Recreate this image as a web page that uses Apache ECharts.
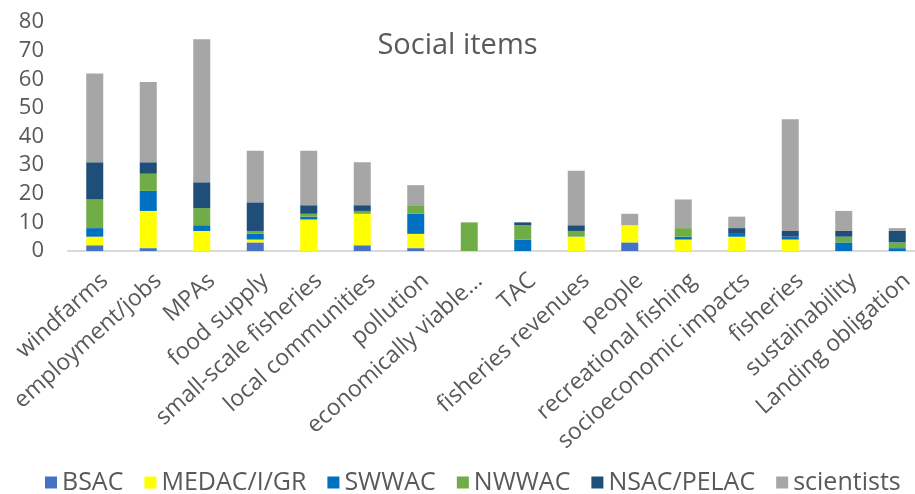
<!DOCTYPE html>
<html>
<head>
<meta charset="utf-8">
<script src="https://cdn.jsdelivr.net/npm/echarts@6/dist/echarts.min.js"></script>
<style>
html,body{margin:0;padding:0;background:#fff;}
#chart{width:915px;height:494px;}
</style>
</head>
<body>
<div id="chart"></div>
<script>
const categories = ["windfarms","employment/jobs","MPAs","food supply","small-scale fisheries","local communities","pollution","economically viable...","TAC","fisheries revenues","people","recreational fishing","socioeconomic impacts","fisheries","sustainability","Landing obligation"];
const yTicks = [0,10,20,30,40,50,60,70,80];
const seriesNames = ["BSAC","MEDAC/I/GR","SWWAC","NWWAC","NSAC/PELAC","scientists"];
const BSAC       = [2,1,0,3,0,2,1,0,0,0,3,0,0,0,0,0];
const MEDAC      = [3,13,7,1,11,11,5,0,0,5,6,4,5,4,0,0];
const SWWAC      = [3,7,2,2,1,0,7,0,4,0,0,1,1,1,3,1];
const NWWAC      = [10,6,6,1,1,1,3,10,5,2,0,3,0,0,2,2];
const NSAC_PELAC = [13,4,9,10,3,2,0,0,1,2,0,0,2,2,2,4];
const scientists = [31,28,50,18,19,15,7,0,0,19,4,10,4,39,7,1];

const colors = ["#4472C4","#FFFF00","#0070C0","#70AD47","#1F4E79","#A6A6A6"];
const values = [BSAC, MEDAC, SWWAC, NWWAC, NSAC_PELAC, scientists];
const font = "'Open Sans', sans-serif";

const chart = echarts.init(document.getElementById('chart'), null, {renderer:'canvas'});
chart.setOption({
  animation: false,
  color: colors,
  title: {
    text: 'Social items', left: 'center', top: 31, padding: 0,
    textStyle: {fontFamily: font, fontSize: 29, fontWeight: 'normal', color: '#595959'}
  },
  legend: {
    data: seriesNames, left: 40, top: 465, icon: 'rect',
    itemWidth: 12, itemHeight: 12, itemGap: 21,
    textStyle: {fontFamily: font, fontSize: 25, color: '#595959'}
  },
  grid: {left: 68, top: 22, width: 856, bottom: 243, containLabel: false, outerBoundsMode: 'none'},
  xAxis: {
    type: 'category', data: categories,
    axisLine: {lineStyle: {color: '#D9D9D9', width: 2}},
    axisTick: {show: false},
    axisLabel: {interval: 0, rotate: 42, margin: 20, verticalAlign: 'top', align: 'right',
      padding: [0, -3, 0, 0],
      fontFamily: font, fontSize: 23, color: '#595959'}
  },
  yAxis: {
    type: 'value', min: yTicks[0], max: yTicks[yTicks.length-1], interval: 10,
    axisLine: {show: false}, axisTick: {show: false}, splitLine: {show: false},
    axisLabel: {margin: 24, fontFamily: font, fontSize: 22, color: '#595959'}
  },
  series: seriesNames.map((n, i) => ({
    name: n, type: 'bar', stack: 'total', barWidth: 17,
    data: values[i], itemStyle: {color: colors[i]}
  }))
});
</script>
</body>
</html>
